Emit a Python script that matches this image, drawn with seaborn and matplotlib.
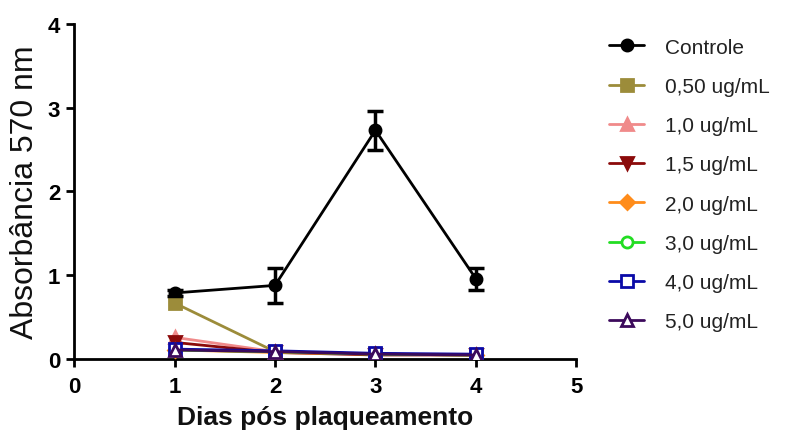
import matplotlib
matplotlib.use("Agg")
import matplotlib.pyplot as plt
import seaborn as sns
import pandas as pd
import numpy as np

days = [1, 2, 3, 4]
series_names = ["Controle", "0,50 ug/mL", "1,0 ug/mL", "1,5 ug/mL",
                "2,0 ug/mL", "3,0 ug/mL", "4,0 ug/mL", "5,0 ug/mL"]
controle = [0.79, 0.88, 2.73, 0.96]
controle_err = [0.04, 0.21, 0.23, 0.13]
c050 = [0.67, 0.09, 0.06, 0.05]
c10 = [0.26, 0.09, 0.06, 0.05]
c15 = [0.20, 0.08, 0.05, 0.05]
c20 = [0.11, 0.08, 0.06, 0.05]
c30 = [0.11, 0.09, 0.06, 0.05]
c40 = [0.12, 0.10, 0.07, 0.06]
c50 = [0.11, 0.09, 0.06, 0.05]
all_values = [controle, c050, c10, c15, c20, c30, c40, c50]

colors = ["#000000", "#9C8C3A", "#F08A8A", "#8B0A0A",
          "#FF8C1A", "#22DD22", "#0A0AA8", "#3C0A5C"]
markers = ["o", "s", "^", "v", "D", "o", "s", "^"]
filled = [True, True, True, True, True, False, False, False]

rows = []
for name, vals in zip(series_names, all_values):
    for d, v in zip(days, vals):
        rows.append({"Dia": d, "Abs": v, "Serie": name})
df = pd.DataFrame(rows)

sns.set_theme(style="ticks")
plt.rcParams["font.family"] = ["Liberation Sans", "DejaVu Sans"]

fig = plt.figure(figsize=(8.06, 4.35), dpi=100)
ax = fig.add_axes([0.092, 0.172, 0.623, 0.771])

for i, name in enumerate(series_names):
    sub = df[df["Serie"] == name]
    mfc = colors[i] if filled[i] else "white"
    sns.lineplot(data=sub, x="Dia", y="Abs", ax=ax, color=colors[i],
                 marker=markers[i], markersize=8 if markers[i] != "D" else 7,
                 markerfacecolor=mfc, markeredgecolor=colors[i],
                 markeredgewidth=2, linewidth=2, label=name, zorder=3 + i)

ax.errorbar(days, controle, yerr=controle_err, fmt="none", ecolor="black",
            elinewidth=2.5, capsize=6, capthick=2.5, zorder=20)

ax.set_xlim(0, 5)
ax.set_ylim(0, 4)
ax.set_xticks([0, 1, 2, 3, 4, 5])
ax.set_yticks([0, 1, 2, 3, 4])
for s in ["top", "right"]:
    ax.spines[s].set_visible(False)
for s in ["left", "bottom"]:
    ax.spines[s].set_linewidth(2)
    ax.spines[s].set_color("black")
ax.tick_params(axis="both", width=2, length=6, color="black",
               labelsize=16, labelcolor="black")
ax.tick_params(axis="x", pad=6)
ax.tick_params(axis="y", pad=4)
for lab in ax.get_xticklabels() + ax.get_yticklabels():
    lab.set_fontweight("bold")

ax.set_xlabel("Dias pós plaqueamento", fontsize=19, fontweight="bold",
              color="#111111", labelpad=6)
ax.set_ylabel("Absorbância 570 nm", fontsize=23, color="#111111", labelpad=6)

leg = ax.legend(loc="upper left", bbox_to_anchor=(0.745, 0.93),
                bbox_transform=fig.transFigure, frameon=False, fontsize=15,
                handlelength=1.7, handletextpad=1.0, labelspacing=0.97,
                borderaxespad=0)
for t in leg.get_texts():
    t.set_color("#222222")

fig.savefig("out.png", dpi=100)
